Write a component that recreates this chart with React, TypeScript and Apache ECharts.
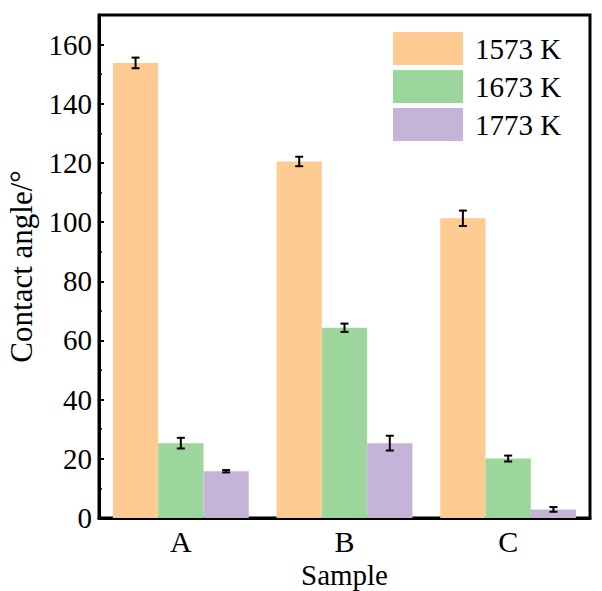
import React, { useEffect, useRef } from "react";
import * as echarts from "echarts";

const categories = ["A", "B", "C"];
const seriesNames = ["1573 K", "1673 K", "1773 K"];
const k1573 = [153.8, 120.5, 101.3];
const k1573Err = [1.8, 1.6, 2.6];
const k1673 = [25.3, 64.3, 20.1];
const k1673Err = [1.8, 1.4, 1.0];
const k1773 = [15.8, 25.3, 2.9];
const k1773Err = [0.4, 2.5, 0.8];
const colors = ["#FECB92", "#9CD69C", "#C5B4D7"];

const FONT = "'Liberation Serif', 'Times New Roman', serif";
const CAT_GAP = 0.17;

export default function App() {
  const ref = useRef<HTMLDivElement>(null);
  useEffect(() => {
    if (!ref.current) return;
    const chart = echarts.init(ref.current, null, { renderer: "svg", width: 602, height: 591 });
    const values = [k1573, k1673, k1773];
    const errs = [k1573Err, k1673Err, k1773Err];

    const barSeries = values.map((v, i) => ({
      name: seriesNames[i],
      type: "bar",
      data: v,
      itemStyle: { color: colors[i] },
      barGap: "0%",
      barCategoryGap: CAT_GAP * 100 + "%",
    }));

    const errSeries = values.map((v, si) => ({
      type: "custom",
      name: seriesNames[si] + " err",
      data: v.map((val, ci) => [ci, val, errs[si][ci]]),
      z: 10,
      silent: true,
      renderItem: (params: any, api: any) => {
        const ci = api.value(0);
        const val = api.value(1);
        const e = api.value(2);
        const center = api.coord([ci, val]);
        const bandW = api.size([1, 0])[0];
        const bw = (bandW * (1 - CAT_GAP)) / 3;
        const x = center[0] + (si - 1) * bw;
        const top = api.coord([ci, val + e])[1];
        const bot = api.coord([ci, val - e])[1];
        const cap = 4;
        const style = { stroke: "#000", lineWidth: 2 };
        return {
          type: "group",
          children: [
            { type: "line", shape: { x1: x, y1: top, x2: x, y2: bot }, style },
            { type: "line", shape: { x1: x - cap, y1: top, x2: x + cap, y2: top }, style },
            { type: "line", shape: { x1: x - cap, y1: bot, x2: x + cap, y2: bot }, style },
          ],
        };
      },
    }));

    chart.setOption({
      animation: false,
      textStyle: { fontFamily: FONT },
      grid: {
        left: 99,
        right: 12,
        top: 15,
        bottom: 73,
        outerBoundsMode: "none",
        show: true,
        borderColor: "#000",
        borderWidth: 3,
      },
      legend: {
        data: seriesNames,
        icon: "rect",
        orient: "vertical",
        left: 388,
        top: 27,
        itemWidth: 70,
        itemHeight: 33,
        itemGap: 5,
        textStyle: { fontFamily: FONT, fontSize: 29, color: "#000", padding: [0, 0, 0, 7] },
        itemStyle: { borderWidth: 0 },
      },
      xAxis: {
        type: "category",
        data: categories,
        name: "Sample",
        nameLocation: "middle",
        nameGap: 39,
        nameTextStyle: { fontFamily: FONT, fontSize: 29, color: "#000" },
        axisLine: { lineStyle: { color: "#000", width: 3 } },
        axisTick: { show: false },
        axisLabel: { fontFamily: FONT, fontSize: 30, color: "#000", margin: 8 },
      },
      yAxis: {
        type: "value",
        min: 0,
        max: 170,
        interval: 20,
        name: "Contact angle/°",
        nameLocation: "middle",
        nameGap: 62,
        nameTextStyle: { fontFamily: FONT, fontSize: 31, color: "#000" },
        axisLine: { show: true, lineStyle: { color: "#000", width: 3 } },
        axisTick: { show: true, inside: true, length: 5, lineStyle: { color: "#000", width: 2 } },
        minorTick: { show: true, splitNumber: 2, length: 3, lineStyle: { color: "#000", width: 1.5 } },
        splitLine: { show: false },
        axisLabel: {
          fontFamily: FONT,
          fontSize: 29,
          color: "#000",
          margin: 7,
          showMaxLabel: false,
          formatter: (v: number) => (v % 20 === 0 ? String(v) : ""),
        },
      },
      series: [...barSeries, ...errSeries],
    } as any);
    return () => chart.dispose();
  }, []);
  return (
    <div
      ref={ref}
      style={{ position: "fixed", left: 0, top: 0, width: 602, height: 591, background: "#fff" }}
    />
  );
}
